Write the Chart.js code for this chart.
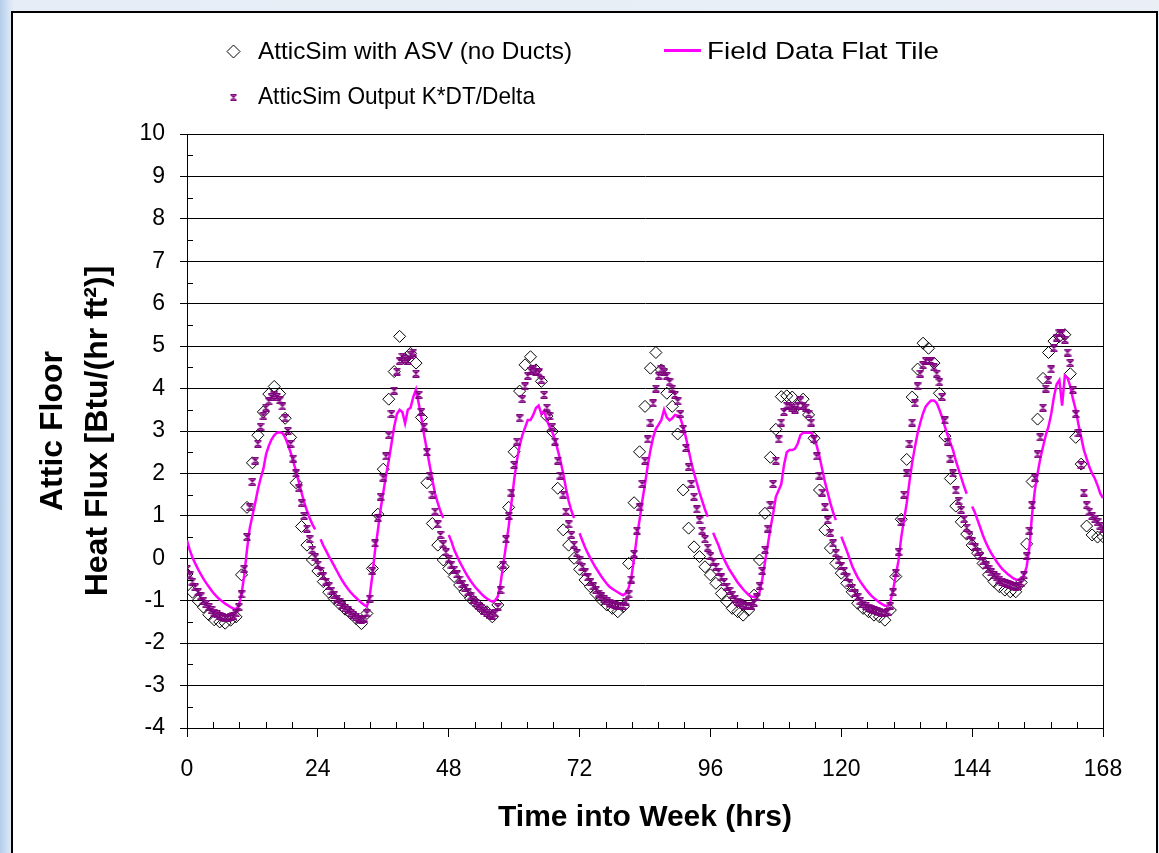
<!DOCTYPE html>
<html>
<head>
<meta charset="utf-8">
<script src="https://cdn.jsdelivr.net/npm/chart.js@4.4.1/dist/chart.umd.min.js"></script>
<style>
  html, body { margin: 0; padding: 0; }
  body {
    width: 1159px; height: 853px; overflow: hidden; position: relative;
    background: linear-gradient(to right, #b4cdea 0px, #d3e2f3 8px, #e6edf6 14px, #eaeff6 100%);
  }
  #frame {
    position: absolute; left: 11px; top: 11px; width: 1143px; height: 900px;
    border: 2px solid #000; background: #fff;
  }
  #chart { position: absolute; left: 0; top: 0; }
</style>
</head>
<body>
<div id="frame"></div>
<canvas id="chart" width="1159" height="853"></canvas>
<script>
// AtticSim with ASV (no Ducts) - one value per hour, 0..168
var atticSimAsv = [
  -0.37, -0.8, -1.0, -1.15, -1.33, -1.45, -1.5, -1.53, -1.46, -1.38, -0.39, 1.2, 2.25, 2.9, 3.45, 3.87, 4.05, 3.88, 3.3, 2.85, 1.78, 0.75, 0.31, -0.04,
  -0.3, -0.55, -0.8, -0.95, -1.08, -1.2, -1.3, -1.42, -1.54, -1.3, -0.24, 1.04, 2.1, 3.75, 4.4, 5.23, 4.7, 4.83, 4.6, 3.32, 1.78, 0.82, 0.31, -0.04,
  -0.24, -0.43, -0.63, -0.79, -0.94, -1.06, -1.18, -1.26, -1.38, -1.1, -0.2, 1.2, 2.51, 3.94, 4.56, 4.75, 4.44, 4.17, 3.35, 2.99, 1.65, 0.67, 0.31, 0.0,
  -0.26, -0.51, -0.67, -0.83, -0.98, -1.1, -1.18, -1.26, -1.14, -0.12, 1.31, 2.51, 3.58, 4.48, 4.85, 4.44, 3.89, 3.58, 2.93, 1.61, 0.71, 0.27, 0.04, -0.2,
  -0.39, -0.59, -0.83, -1.02, -1.18, -1.26, -1.34, -1.22, -0.87, -0.04, 1.06, 2.38, 3.04, 3.81, 3.83, 3.8, 3.6, 3.75, 3.38, 2.83, 1.61, 0.67, 0.24, -0.12,
  -0.35, -0.59, -0.79, -1.06, -1.18, -1.26, -1.34, -1.38, -1.46, -1.22, -0.43, 0.92, 2.33, 3.8, 4.46, 5.07, 4.95, 4.6, 3.89, 2.88, 1.88, 1.23, 0.86, 0.57,
  0.31, 0.12, -0.12, -0.39, -0.55, -0.67, -0.75, -0.79, -0.79, -0.57, 0.34, 1.81, 3.28, 4.24, 4.85, 5.12, 5.23, 5.27, 4.35, 2.85, 2.22, 0.76, 0.55, 0.5, 0.51
];

// Field Data Flat Tile - one value per half hour, 0..168 (null = missing)
var fieldFlatTile = [
  0.42, 0.2, 0.02, -0.12, -0.25, -0.37, -0.48, -0.58, -0.67, -0.76, -0.84, -0.91, -0.97, -1.02, -1.07, -1.11, -1.15, -1.18, -1.2, -1.12, -0.85, -0.4, 0.2, 0.7,
  1.0, 1.3, 1.62, 1.88, 2.1, 2.45, 2.65, 2.8, 2.9, 2.96, 2.97, 2.95, 2.85, 2.68, 2.5, 2.28, 2.05, 1.8, 1.55, 1.32, 1.12, 0.95, 0.8, 0.68,
  null, 0.45, 0.3, 0.18, 0.05, -0.06, -0.18, -0.3, -0.42, -0.53, -0.63, -0.72, -0.8, -0.87, -0.93, -0.99, -1.05, -1.1, -1.14, -0.9, -0.4, 0.2, 0.65, 1.15,
  1.55, 1.95, 2.3, 2.7, 3.1, 3.4, 3.5, 3.45, 3.18, 3.5, 3.55, 3.8, 3.98, 3.65, 3.3, 2.9, 2.55, 2.2, 1.85, 1.52, 1.3, 1.1, 0.95, null,
  0.55, 0.4, 0.2, 0.06, -0.08, -0.2, -0.32, -0.43, -0.53, -0.62, -0.7, -0.77, -0.84, -0.9, -0.95, -0.99, -1.02, -1.0, -0.9, -0.6, -0.15, 0.3, 0.75, 1.3,
  1.85, 2.3, 2.65, 2.9, 3.08, 3.26, 3.26, 3.38, 3.54, 3.6, 3.4, 3.48, 3.25, 3.1, 2.97, 2.8, 2.55, 2.3, 2.0, 1.65, 1.35, 1.12, 0.95, null,
  0.59, 0.42, 0.26, 0.12, 0.0, -0.12, -0.23, -0.33, -0.43, -0.52, -0.6, -0.67, -0.72, -0.76, -0.8, -0.84, -0.87, -0.82, -0.7, -0.45, 0.0, 0.5, 0.9, 1.35,
  1.75, 2.18, 2.55, 2.85, 3.05, 3.15, 3.26, 3.5, 3.32, 3.25, 3.3, 3.38, 3.36, 3.3, 3.1, 2.85, 2.55, 2.25, 2.0, 1.78, 1.55, 1.35, 1.15, 0.98,
  null, 0.6, 0.45, 0.3, 0.12, -0.02, -0.15, -0.27, -0.37, -0.47, -0.57, -0.65, -0.73, -0.8, -0.86, -0.9, -0.91, -0.9, -0.8, -0.5, -0.1, 0.3, 0.7, 1.05,
  1.45, 1.6, 1.75, 2.2, 2.5, 2.55, 2.55, 2.58, 2.7, 2.9, 2.96, 2.96, 2.96, 2.96, 2.85, 2.65, 2.4, 2.1, 1.8, 1.55, 1.3, 1.08, 0.9, null,
  0.51, 0.35, 0.18, 0.0, -0.18, -0.32, -0.45, -0.55, -0.64, -0.73, -0.81, -0.88, -0.94, -0.99, -1.04, -1.08, -1.12, -1.12, -1.02, -0.75, -0.4, -0.05, 0.5, 0.9,
  1.3, 1.8, 2.25, 2.62, 2.95, 3.2, 3.42, 3.58, 3.66, 3.72, 3.72, 3.66, 3.5, 3.32, 3.1, 2.9, 2.72, 2.55, 2.3, 2.1, 1.9, 1.7, 1.52, null,
  1.22, 1.08, 0.9, 0.72, 0.53, 0.38, 0.24, 0.12, 0.02, -0.08, -0.17, -0.25, -0.31, -0.37, -0.42, -0.47, -0.5, -0.51, -0.48, -0.4, -0.2, 0.25, 1.05, 1.6,
  2.0, 2.35, 2.63, 2.9, 3.1, 3.4, 3.8, 4.1, 4.2, 3.6, 4.3, 4.25, 4.05, 3.75, 3.5, 3.15, 2.85, 2.55, 2.35, 2.15, 2.0, 1.88, 1.72, 1.53, 1.42
];

// AtticSim Output K*DT/Delta - one value per half hour, 0..168
var atticSimKdt = [
  -0.25, -0.4, -0.55, -0.68, -0.8, -0.9, -1.0, -1.08, -1.15, -1.22, -1.28, -1.32, -1.36, -1.38, -1.4, -1.4, -1.38, -1.36, -1.3, -1.15, -0.85, -0.25, 0.5, 1.2,
  1.8, 2.3, 2.7, 3.1, 3.35, 3.55, 3.7, 3.8, 3.85, 3.8, 3.72, 3.58, 3.3, 3.0, 2.7, 2.35, 2.0, 1.65, 1.3, 1.0, 0.7, 0.45, 0.2, 0.02,
  -0.15, -0.3, -0.42, -0.55, -0.66, -0.76, -0.86, -0.95, -1.03, -1.1, -1.17, -1.23, -1.29, -1.34, -1.38, -1.42, -1.45, -1.42, -1.3, -0.95, -0.3, 0.35, 0.95, 1.45,
  1.9, 2.4, 2.9, 3.4, 3.95, 4.4, 4.65, 4.75, 4.7, 4.65, 4.8, 4.85, 4.35, 3.85, 3.45, 3.1, 2.5, 1.95, 1.5, 1.1, 0.8, 0.55, 0.33, 0.14,
  -0.02, -0.15, -0.27, -0.38, -0.5, -0.6, -0.7, -0.8, -0.9, -0.98, -1.05, -1.12, -1.18, -1.24, -1.29, -1.33, -1.35, -1.3, -1.15, -0.75, -0.15, 0.45, 1.0, 1.55,
  2.2, 2.75, 3.3, 3.75, 4.05, 4.3, 4.42, 4.45, 4.4, 4.38, 4.2, 3.85, 3.55, 3.35, 3.1, 2.75, 2.3, 1.95, 1.5, 1.1, 0.8, 0.55, 0.32, 0.12,
  -0.05, -0.2, -0.33, -0.45, -0.56, -0.66, -0.75, -0.83, -0.9, -0.96, -1.01, -1.05, -1.08, -1.1, -1.12, -1.12, -1.12, -1.02, -0.85, -0.5, 0.1, 0.65, 1.2, 1.75,
  2.3, 2.8, 3.2, 3.65, 4.0, 4.3, 4.45, 4.4, 4.3, 4.15, 4.0, 3.85, 3.7, 3.4, 3.05, 2.6, 2.15, 1.75, 1.45, 1.15, 0.9, 0.65, 0.45, 0.25,
  0.05, -0.08, -0.2, -0.32, -0.45, -0.56, -0.67, -0.77, -0.86, -0.95, -1.02, -1.06, -1.1, -1.12, -1.12, -1.12, -1.05, -0.92, -0.65, -0.3, 0.2, 0.7, 1.25, 1.75,
  2.3, 2.8, 3.2, 3.45, 3.6, 3.6, 3.55, 3.5, 3.6, 3.72, 3.6, 3.55, 3.4, 3.2, 2.8, 2.4, 1.95, 1.55, 1.2, 0.9, 0.6, 0.35, 0.12, -0.05,
  -0.18, -0.3, -0.45, -0.58, -0.7, -0.82, -0.92, -1.0, -1.07, -1.12, -1.16, -1.19, -1.22, -1.24, -1.26, -1.28, -1.3, -1.26, -1.12, -0.8, -0.35, 0.15, 0.85, 1.5,
  2.0, 2.7, 3.2, 3.65, 4.05, 4.35, 4.55, 4.65, 4.65, 4.65, 4.5, 4.35, 4.15, 3.8, 3.25, 2.75, 2.35, 2.0, 1.6, 1.35, 1.14, 0.92, 0.72, 0.55,
  0.4, 0.27, 0.15, 0.05, -0.07, -0.17, -0.26, -0.33, -0.4, -0.45, -0.5, -0.55, -0.58, -0.61, -0.64, -0.66, -0.67, -0.65, -0.58, -0.4, 0.05, 0.65, 1.25, 1.9,
  2.45, 2.85, 3.55, 4.0, 4.2, 4.45, 4.95, 5.2, 5.3, 5.3, 5.15, 4.85, 4.6, 3.97, 3.4, 2.95, 2.2, 1.55, 1.25, 1.1, 1.0, 0.92, 0.85, 0.77, 0.7
];

var seriesNames = ['AtticSim with ASV (no Ducts)', 'Field Data Flat Tile', 'AtticSim Output K*DT/Delta'];
var xTicks = [0, 24, 48, 72, 96, 120, 144, 168];
var yTicks = [-4, -3, -2, -1, 0, 1, 2, 3, 4, 5, 6, 7, 8, 9, 10];

var FONT = "'Liberation Sans', Arial, sans-serif";
var PURPLE = '#800080';
var MAGENTA = '#ff00ff';

function toPoints(values, step) {
  return values.map(function (v, i) { return { x: i * step, y: v }; });
}

// excel style star marker: x + vertical bar + caps
function starMarker(size, color) {
  var c = document.createElement('canvas');
  c.width = size; c.height = size;
  var g = c.getContext('2d');
  var m = size - 1;
  g.strokeStyle = color;
  g.lineWidth = 1.3;
  g.beginPath();
  g.moveTo(0.5, 0.5); g.lineTo(m + 0.5, m + 0.5);
  g.moveTo(m + 0.5, 0.5); g.lineTo(0.5, m + 0.5);
  g.moveTo(size / 2, 0); g.lineTo(size / 2, size);
  g.moveTo(1, 0.7); g.lineTo(m, 0.7);
  g.moveTo(1, m + 0.3); g.lineTo(m, m + 0.3);
  g.stroke();
  return c;
}

var star = starMarker(8, PURPLE);

// draw text squeezed/stretched to the width it has in the picture
function fitText(ctx, text, x, y, width) {
  var w = ctx.measureText(text).width;
  ctx.save();
  ctx.translate(x, y);
  ctx.scale(width / w, 1);
  ctx.fillText(text, 0, 0);
  ctx.restore();
}

var excelBits = {
  id: 'excelBits',
  afterDraw: function (chart) {
    var ctx = chart.ctx, a = chart.chartArea, x = chart.scales.x, y = chart.scales.y;
    ctx.save();
    ctx.strokeStyle = '#000';
    ctx.lineWidth = 1;
    ctx.beginPath();
    // minor ticks, x every 4.8 h, y every 0.5
    for (var i = 1; i < 35; i++) {
      if (i % 5 === 0) continue;
      var px = Math.round(x.getPixelForValue(i * 4.8)) + 0.5;
      ctx.moveTo(px, a.bottom);
      ctx.lineTo(px, a.bottom - 6);
    }
    for (var j = 0; j < yTicks.length - 1; j++) {
      var py = Math.round(y.getPixelForValue(yTicks[j] + 0.5)) + 0.5;
      ctx.moveTo(a.left, py);
      ctx.lineTo(a.left + 6, py);
    }
    ctx.moveTo(Math.round(a.right) + 0.5, a.top);
    ctx.lineTo(Math.round(a.right) + 0.5, a.bottom);
    ctx.stroke();

    // legend
    ctx.fillStyle = '#000';
    ctx.font = '24px ' + FONT;
    ctx.textBaseline = 'middle';
    ctx.textAlign = 'left';

    ctx.beginPath();
    ctx.moveTo(233.5, 45); ctx.lineTo(240, 51.5); ctx.lineTo(233.5, 58); ctx.lineTo(227, 51.5); ctx.closePath();
    ctx.stroke();
    fitText(ctx, seriesNames[0], 258, 52, 314);

    ctx.strokeStyle = MAGENTA;
    ctx.lineWidth = 3;
    ctx.beginPath();
    ctx.moveTo(664, 50.5); ctx.lineTo(701, 50.5);
    ctx.stroke();
    fitText(ctx, seriesNames[1], 707, 52, 232);

    ctx.drawImage(star, 230, 94, 7, 7);
    fitText(ctx, seriesNames[2], 258, 97, 277);
    ctx.restore();
  }
};

new Chart(document.getElementById('chart').getContext('2d'), {
  type: 'scatter',
  plugins: [excelBits],
  data: {
    datasets: [
      {
        label: seriesNames[0],
        data: toPoints(atticSimAsv, 1),
        pointStyle: 'rectRot',
        pointRadius: 6,
        borderColor: '#000',
        borderWidth: 1,
        backgroundColor: 'rgba(0,0,0,0)',
        order: 3
      },
      {
        label: seriesNames[1],
        data: toPoints(fieldFlatTile, 0.5),
        showLine: true,
        spanGaps: false,
        borderColor: MAGENTA,
        borderWidth: 2.5,
        pointRadius: 0,
        tension: 0,
        order: 2
      },
      {
        label: seriesNames[2],
        data: toPoints(atticSimKdt, 0.5),
        pointStyle: star,
        pointRadius: 4,
        borderColor: PURPLE,
        backgroundColor: PURPLE,
        order: 1
      }
    ]
  },
  options: {
    responsive: false,
    animation: false,
    events: [],
    layout: { padding: { top: 134, right: 56, left: 0, bottom: 0 } },
    plugins: {
      legend: { display: false },
      tooltip: { enabled: false }
    },
    scales: {
      x: {
        type: 'linear',
        min: 0,
        max: 168,
        afterFit: function (scale) { scale.height = 125; },
        afterBuildTicks: function (scale) {
          scale.ticks = xTicks.map(function (v) { return { value: v }; });
        },
        grid: {
          drawOnChartArea: false,
          color: '#000',
          tickLength: 9,
          tickColor: '#000'
        },
        border: { color: '#000', width: 1 },
        ticks: {
          color: '#000',
          padding: 19,
          maxRotation: 0,
          font: { family: FONT, size: 23 }
        },
        title: {
          display: true,
          text: 'Time into Week (hrs)',
          color: '#000',
          font: { family: FONT, size: 30, weight: 'bold' },
          padding: { top: 0, bottom: 17 }
        }
      },
      y: {
        min: -4,
        max: 10,
        afterFit: function (scale) { scale.width = 187; },
        afterBuildTicks: function (scale) {
          scale.ticks = yTicks.map(function (v) { return { value: v }; });
        },
        grid: {
          color: '#000',
          lineWidth: 1,
          tickLength: 7,
          tickColor: '#000'
        },
        border: { color: '#000', width: 1 },
        ticks: {
          color: '#000',
          padding: 15,
          font: { family: FONT, size: 23 }
        },
        title: {
          display: true,
          text: ['Attic Floor', 'Heat Flux [Btu/(hr ft\u00b2)]'],
          color: '#000',
          font: { family: FONT, size: 32, weight: 'bold', lineHeight: 1.4 },
          padding: { top: 31, bottom: 0 }
        }
      }
    }
  }
});
</script>
</body>
</html>
